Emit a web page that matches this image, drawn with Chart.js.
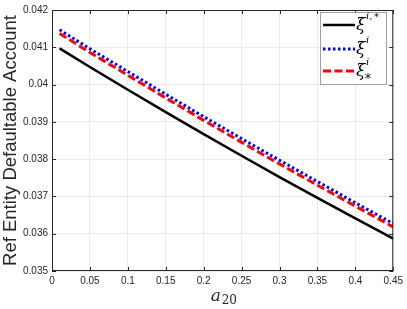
<!DOCTYPE html>
<html><head><meta charset="utf-8">
<script src="https://cdn.jsdelivr.net/npm/chart.js@4/dist/chart.umd.min.js"></script>
<style>html,body{margin:0;padding:0;background:#fff;}#wrap{width:407px;height:309px;}</style>
</head><body><div id="wrap"><canvas id="c" width="407" height="309"></canvas></div>
<script>
const xValues = [0.01, 0.05, 0.1, 0.15, 0.2, 0.25, 0.3, 0.35, 0.4, 0.45];
const xiStarI = [0.04097, 0.04047, 0.03986, 0.03926, 0.03867, 0.03809, 0.03752, 0.03696, 0.03641, 0.03587];
const xiI     = [0.04147, 0.04096, 0.04035, 0.03974, 0.03914, 0.03855, 0.03797, 0.03740, 0.03683, 0.03627];
const xiIStar = [0.04137, 0.04086, 0.04025, 0.03964, 0.03904, 0.03845, 0.03787, 0.03730, 0.03674, 0.03618];
const xTicks = [0, 0.05, 0.1, 0.15, 0.2, 0.25, 0.3, 0.35, 0.4, 0.45];
const yTicks = [0.035, 0.036, 0.037, 0.038, 0.039, 0.04, 0.041, 0.042];
const yTitle = 'Ref Entity Defaultable Account';

const AX = '#262626';
const pts = arr => arr.map((v,i)=>({x:xValues[i], y:v}));

const decor = {
  id:'decor',
  afterDraw(chart){
    const {ctx, chartArea:a, scales:{x, y}} = chart;
    ctx.save();
    ctx.strokeStyle = AX; ctx.lineWidth = 1;
    ctx.strokeRect(a.left+0.5, a.top+0.5, a.right-a.left-1, a.bottom-a.top-1);
    ctx.beginPath();
    xTicks.forEach(t=>{const px=Math.round(x.getPixelForValue(t))+0.5;
      ctx.moveTo(px,a.bottom); ctx.lineTo(px,a.bottom-4);
      ctx.moveTo(px,a.top); ctx.lineTo(px,a.top+4);});
    yTicks.forEach(t=>{const py=Math.round(y.getPixelForValue(t))+0.5;
      ctx.moveTo(a.left,py); ctx.lineTo(a.left+4,py);
      ctx.moveTo(a.right,py); ctx.lineTo(a.right-4,py);});
    ctx.stroke();
    // y title
    ctx.fillStyle = AX;
    ctx.font = '18.5px "Liberation Sans", Arial, sans-serif';
    ctx.translate(16, (a.top+a.bottom)/2);
    ctx.rotate(-Math.PI/2);
    ctx.textAlign='center'; ctx.textBaseline='alphabetic';
    ctx.fillText(yTitle, 0, 0);
    ctx.setTransform(1,0,0,1,0,0);
    // x title
    const cx = (a.left+a.right)/2;
    ctx.textAlign='left'; ctx.textBaseline='alphabetic';
    ctx.font = 'italic 17px "DejaVu Serif", serif';
    ctx.fillText('a', cx-12, 301);
    ctx.font = '12px "DejaVu Serif", serif';
    ctx.fillText('20', cx-1, 304);
    // legend
    const lx=320, ly=12, lw=66, lh=72;
    ctx.fillStyle='#fff'; ctx.fillRect(lx,ly,lw,lh);
    ctx.strokeStyle='#a0a0a0'; ctx.lineWidth=1; ctx.strokeRect(lx+0.5,ly+0.5,lw,lh);
    const items = chart.data.datasets;
    const rows = [25, 49, 71];
    items.forEach((ds,i)=>{
      ctx.beginPath();
      ctx.strokeStyle=ds.borderColor; ctx.lineWidth=ds.borderWidth;
      ctx.setLineDash(ds.borderDash||[]);
      ctx.moveTo(323, rows[i]); ctx.lineTo(355, rows[i]); ctx.stroke();
      ctx.setLineDash([]);
    });
    ctx.fillStyle='#000';
    ctx.font='italic 17px "DejaVu Serif", serif';
    ctx.fillText('ξ', 356, 30); ctx.fillText('ξ', 356, 54); ctx.fillText('ξ', 356, 76);
    ctx.font='italic 10px "DejaVu Serif", serif';
    ctx.fillText('i,', 366, 19); ctx.fillText('*', 374, 20);
    ctx.fillText('i', 366, 43);
    ctx.fillText('i', 366, 65);
    ctx.font='12px "DejaVu Serif", serif';
    ctx.fillText('*', 365, 83);
    ctx.restore();
  }
};

new Chart(document.getElementById('c'), {
  type:'line',
  data:{datasets:[
    {label:'xi_i_star', data:pts(xiStarI), borderColor:'#000000', borderWidth:2.5, pointRadius:0, fill:false, tension:0},
    {label:'xi_i', data:pts(xiI), borderColor:'#0000ff', borderWidth:3, borderDash:[2.5,2.5], pointRadius:0, fill:false, tension:0},
    {label:'xi_star_i', data:pts(xiIStar), borderColor:'#ff0000', borderWidth:3, borderDash:[8,3.5], pointRadius:0, fill:false, tension:0}
  ]},
  options:{
    responsive:false, animation:false, devicePixelRatio:1,
    layout:{padding:{top:5, right:11, left:0, bottom:0}},
    plugins:{legend:{display:false}, tooltip:{enabled:false}},
    scales:{
      x:{type:'linear', min:0, max:0.45,
        afterFit(s){s.height=38;},
        afterBuildTicks(s){s.ticks = xTicks.map(v=>({value:v}));},
        ticks:{color:AX, font:{family:'"Liberation Sans", Arial, sans-serif', size:10}, padding:4, maxRotation:0,
          callback:v=>String(v)},
        grid:{color:'#ebebeb', drawTicks:false, lineWidth:1},
        border:{display:false}},
      y:{type:'linear', min:0.035, max:0.042,
        afterFit(s){s.width=52;},
        afterBuildTicks(s){s.ticks = yTicks.map(v=>({value:v}));},
        ticks:{color:AX, font:{family:'"Liberation Sans", Arial, sans-serif', size:10}, padding:4,
          callback:v=>String(+v.toFixed(3))},
        grid:{color:'#ebebeb', drawTicks:false, lineWidth:1},
        border:{display:false}}
    }
  },
  plugins:[decor]
});
</script></body></html>
